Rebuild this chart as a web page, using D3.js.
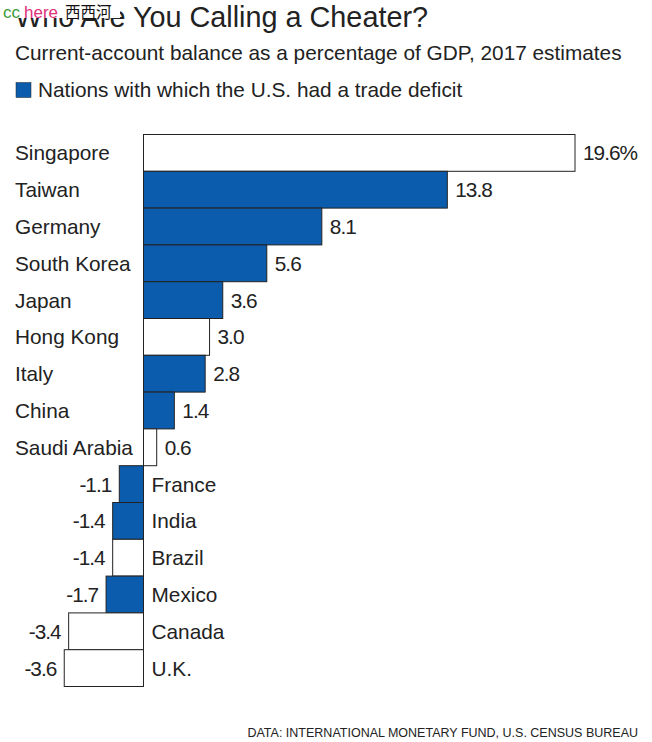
<!DOCTYPE html>
<html><head><meta charset="utf-8">
<script src="https://cdn.jsdelivr.net/npm/d3@7"></script>
<style>body{margin:0;background:#fff}svg{display:block}text{font-family:"Liberation Sans",Arial,sans-serif;fill:#222}</style>
</head><body>
<script>
const countries = ["Singapore","Taiwan","Germany","South Korea","Japan","Hong Kong","Italy","China","Saudi Arabia","France","India","Brazil","Mexico","Canada","U.K."];
const values = [19.6,13.8,8.1,5.6,3.6,3.0,2.8,1.4,0.6,-1.1,-1.4,-1.4,-1.7,-3.4,-3.6];
const deficit = [false,true,true,true,true,false,true,true,false,true,true,false,true,false,false];
const valueLabels = ["19.6%","13.8","8.1","5.6","3.6","3.0","2.8","1.4","0.6","-1.1","-1.4","-1.4","-1.7","-3.4","-3.6"];

const W=652,H=742;
const svg=d3.select("body").append("svg").attr("width",W).attr("height",H);
const blue="#0b5cad";
const fs=20.8;

const x=d3.scaleLinear().domain([0,19.6]).range([143.5,575]);
const y=d3.scaleBand().domain(countries).range([134.5,686.5]).padding(0);

svg.append("text").attr("x",15).attr("y",27).attr("font-size",28.8).text("Who Are You Calling a Cheater?");
// watermark covering part of the title
svg.append("rect").attr("x",0).attr("y",0).attr("width",120).attr("height",18).attr("fill","#fff");
const wm=svg.append("text").attr("x",3).attr("y",18).attr("font-size",17);
wm.append("tspan").style("fill","#3a9a3a").text("cc");
wm.append("tspan").attr("dx",4).style("fill","#e0307a").text("here");
wm.append("tspan").style("fill","#111").attr("dx",7).attr("font-family","'Noto Sans CJK SC'").attr("font-size",15.5).text("西西河");

svg.append("text").attr("x",15).attr("y",60).attr("font-size",fs).text("Current-account balance as a percentage of GDP, 2017 estimates");
svg.append("rect").attr("x",16).attr("y",82.5).attr("width",15).attr("height",15).attr("fill",blue).attr("stroke","#222").attr("stroke-width",0.5);
svg.append("text").attr("x",38).attr("y",97).attr("font-size",fs).text("Nations with which the U.S. had a trade deficit");

const data=countries.map((c,i)=>({c,v:values[i],d:deficit[i],l:valueLabels[i]}));

svg.selectAll("rect.bar").data(data).join("rect").attr("class","bar")
 .attr("x",d=>x(Math.min(0,d.v))).attr("width",d=>Math.abs(x(d.v)-x(0)))
 .attr("y",d=>y(d.c)).attr("height",y.bandwidth())
 .attr("fill",d=>d.d?blue:"#fff").attr("stroke","#222").attr("stroke-width",1);

svg.selectAll("text.name").data(data).join("text").attr("class","name")
 .attr("x",d=>d.v>=0?15:x(0)+8).attr("y",d=>y(d.c)+y.bandwidth()/2+7.5)
 .attr("font-size",fs).text(d=>d.c);

svg.selectAll("text.val").data(data).join("text").attr("class","val")
 .attr("x",d=>d.v>=0?x(d.v)+8:x(d.v)-8).attr("y",d=>y(d.c)+y.bandwidth()/2+7.5)
 .attr("text-anchor",d=>d.v>=0?"start":"end")
 .attr("font-size",fs).attr("letter-spacing",-1).text(d=>d.l);

svg.append("text").attr("x",638).attr("y",737).attr("text-anchor","end").attr("font-size",12.5).text("DATA: INTERNATIONAL MONETARY FUND, U.S. CENSUS BUREAU");
</script>
</body></html>
